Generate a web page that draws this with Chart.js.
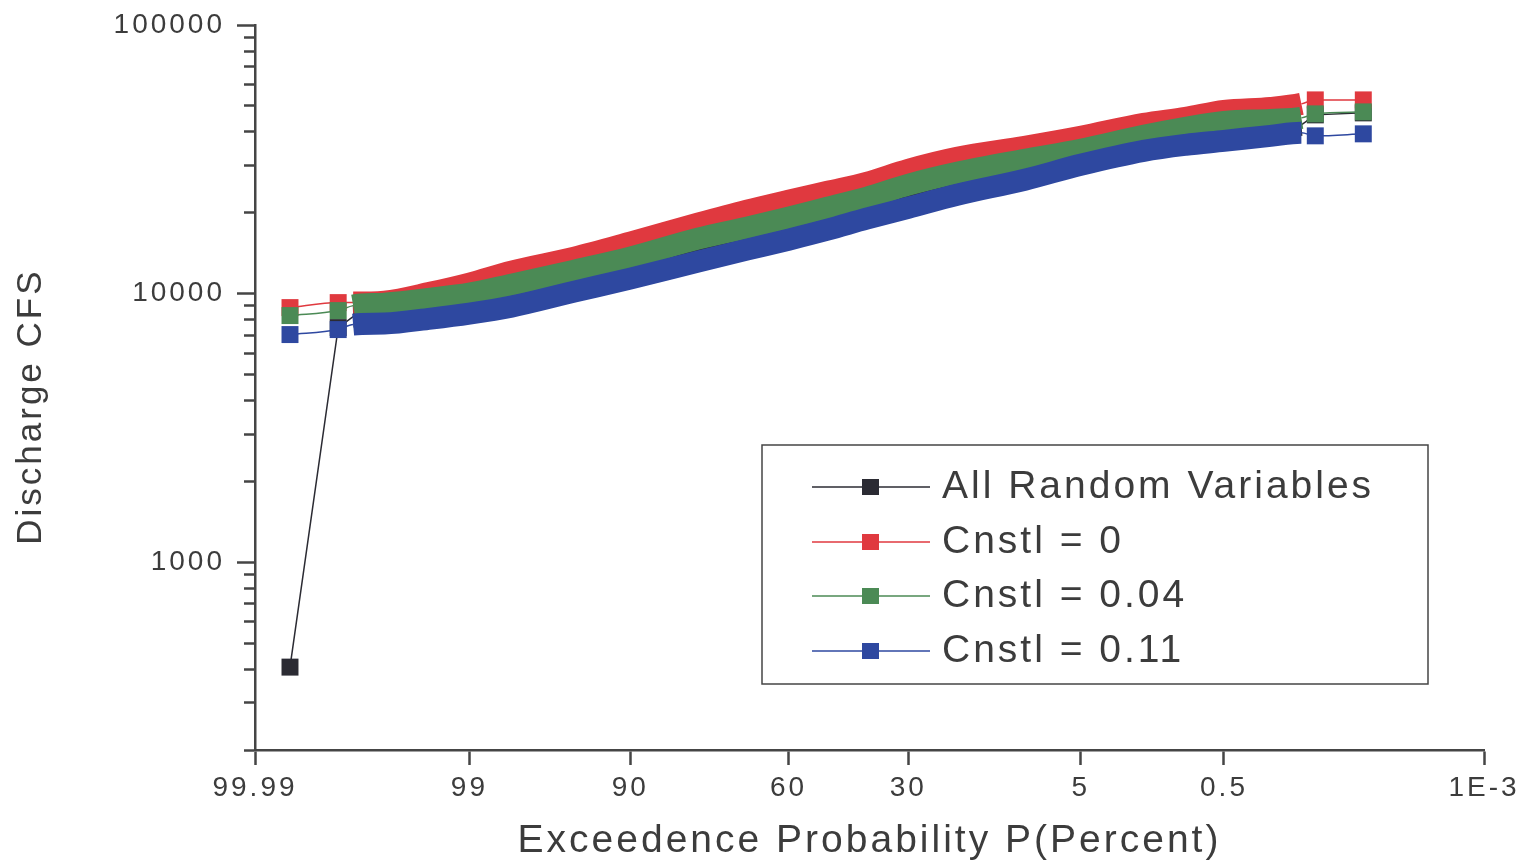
<!DOCTYPE html>
<html>
<head>
<meta charset="utf-8">
<title>Discharge CFS vs Exceedence Probability</title>
<script src="https://cdn.jsdelivr.net/npm/chart.js@4.4.1/dist/chart.umd.min.js"></script>
<style>
  html, body { margin: 0; padding: 0; background: #fff; }
  canvas { display: block; }
</style>
</head>
<body>
<canvas id="chart" width="1526" height="868"></canvas>
<script>
// ── Data ──────────────────────────────────────────────────────────
// exceedence probability (percent) of each plotted point
const exceedProb = [99.976, 99.926, 99.897, 99.8, 99.5, 99, 98, 95, 90, 80, 70, 60, 50,
                    40, 30, 20, 10, 5, 2, 1, 0.5, 0.2, 0.104, 0.0765, 0.025];

// discharge (cfs)
const allRandom = [407, 7475, 8213, 8284, 8646, 9024, 9581, 10894, 12176, 14083, 15607, 17001, 18522,
                   20349, 22360, 24991, 28414, 32306, 36419, 38340, 39675, 41410, 42487, 46285, 47084];
const cnstl0    = [8871, 9259, 9258, 9338, 10086, 10893, 12072, 13609, 15474, 18208, 20350, 22168, 23944,
                   25861, 28905, 32032, 35194, 38340, 42851, 45111, 47897, 49143, 50855, 52626, 52626];
const cnstl004  = [8284, 8646, 9023, 9180, 9581, 10000, 10801, 12176, 13609, 16012, 17594, 19166, 20880,
                   22745, 25422, 28172, 31487, 34302, 38670, 41410, 43592, 44345, 45111, 46683, 47489];
const cnstl011  = [7040, 7348, 7669, 7735, 8074, 8427, 8947, 10173, 11370, 13151, 14573, 15876, 17294,
                   19002, 20879, 23336, 26533, 30168, 34009, 35801, 37049, 38670, 39675, 38669, 39337];

// the dense middle of every series plots as a solid band
const BAND_FIRST = 2;
const BAND_LAST = 22;

const xTickValues = [99.99, 99, 90, 60, 30, 5, 0.5, 0.001];
const xTickLabels = ['99.99', '99', '90', '60', '30', '5', '0.5', '1E-3'];

const yMajorTicks = [1000, 10000, 100000];
const yMinorTicks = [];
for (const decade of [100, 1000, 10000]) {
  for (let m = 2; m <= 9; m++) yMinorTicks.push(m * decade);
}

const FONT = '"Liberation Sans", Arial, Helvetica, sans-serif';
const INK = '#3c3c3c';
const AXIS = '#454545';

// ── Normal probability axis ───────────────────────────────────────
// inverse standard normal CDF (Acklam)
function normInv(p) {
  const a = [-3.969683028665376e+01, 2.209460984245205e+02, -2.759285104469687e+02,
             1.383577518672690e+02, -3.066479806614716e+01, 2.506628277459239e+00];
  const b = [-5.447609879822406e+01, 1.615858368580409e+02, -1.556989798598866e+02,
             6.680131188771972e+01, -1.328068155288572e+01];
  const c = [-7.784894002430293e-03, -3.223964580411365e-01, -2.400758277161838e+00,
             -2.549671348149080e+00, 4.374664141464968e+00, 2.938163982698783e+00];
  const d = [7.784695709041462e-03, 3.224671290700398e-01, 2.445134137142996e+00,
             3.754408661907416e+00];
  const tail = q => (((((c[0] * q + c[1]) * q + c[2]) * q + c[3]) * q + c[4]) * q + c[5]) /
                    ((((d[0] * q + d[1]) * q + d[2]) * q + d[3]) * q + 1);
  if (p < 0.02425) return tail(Math.sqrt(-2 * Math.log(p)));
  if (p > 1 - 0.02425) return -tail(Math.sqrt(-2 * Math.log(1 - p)));
  const q = p - 0.5, r = q * q;
  return (((((a[0] * r + a[1]) * r + a[2]) * r + a[3]) * r + a[4]) * r + a[5]) * q /
         (((((b[0] * r + b[1]) * r + b[2]) * r + b[3]) * r + b[4]) * r + 1);
}

function normCdf(z) {
  // Abramowitz & Stegun 7.1.26
  const t = 1 / (1 + 0.3275911 * Math.abs(z) / Math.SQRT2);
  const y = 1 - (((((1.061405429 * t - 1.453152027) * t) + 1.421413741) * t - 0.284496736) * t + 0.254829592) *
            t * Math.exp(-z * z / 2);
  return z >= 0 ? 0.5 * (1 + y) : 0.5 * (1 - y);
}

// exceedence percent -> standard normal variate
const zOf = pct => normInv(1 - pct / 100);

class ProbabilityScale extends Chart.Scale {
  static id = 'probability';
  static defaults = {};

  determineDataLimits() {
    this.min = this.options.min;
    this.max = this.options.max;
  }
  buildTicks() {
    return xTickValues.map(value => ({ value }));
  }
  getLabelForValue(value) {
    return String(value);
  }
  configure() {
    super.configure();
    // high exceedence on the left, rare events on the right
    this._zLeft = zOf(this.max);
    this._zRight = zOf(this.min);
  }
  getPixelForValue(value) {
    return this.getPixelForDecimal((zOf(value) - this._zLeft) / (this._zRight - this._zLeft));
  }
  getValueForPixel(pixel) {
    const z = this._zLeft + this.getDecimalForPixel(pixel) * (this._zRight - this._zLeft);
    return 100 * (1 - normCdf(z));
  }
}
Chart.register(ProbabilityScale);

// ── Plugins ───────────────────────────────────────────────────────
const spacedText = {
  id: 'spacedText',
  beforeUpdate(chart) { chart.ctx.letterSpacing = '3px'; },
  beforeDraw(chart) { chart.ctx.letterSpacing = '3px'; },
};

// boxed legend: line - square - line, then the label
const boxedLegend = {
  id: 'boxedLegend',
  afterDraw(chart) {
    const { ctx, chartArea: area } = chart;
    const x0 = area.left + 507, y0 = area.top + 420, w = 666, h = 239;
    ctx.save();
    ctx.fillStyle = '#fff';
    ctx.fillRect(x0, y0, w, h);
    ctx.strokeStyle = AXIS;
    ctx.lineWidth = 1.5;
    ctx.strokeRect(x0, y0, w, h);
    ctx.font = `39px ${FONT}`;
    ctx.textAlign = 'left';
    ctx.textBaseline = 'middle';
    chart.data.datasets.forEach((ds, i) => {
      const y = Math.round(y0 + 42 + i * 54.7);
      ctx.strokeStyle = ds.borderColor;
      ctx.lineWidth = 1.5;
      ctx.beginPath();
      ctx.moveTo(x0 + 50, y);
      ctx.lineTo(x0 + 168, y);
      ctx.stroke();
      ctx.fillStyle = ds.borderColor;
      ctx.fillRect(x0 + 100, y - 8, 17, 16);
      ctx.fillStyle = INK;
      ctx.fillText(ds.label, x0 + 180, y);
    });
    ctx.restore();
  }
};

// ── Chart ─────────────────────────────────────────────────────────
const isBand = i => i >= BAND_FIRST && i <= BAND_LAST;
const bandSegment = ctx => isBand(ctx.p0DataIndex) && isBand(ctx.p1DataIndex);

function series(label, values, color, order, smooth = true) {
  return {
    label,
    data: exceedProb.map((p, i) => ({ x: p, y: values[i] })),
    borderColor: color,
    backgroundColor: color,
    borderWidth: 1.5,
    cubicInterpolationMode: smooth ? 'monotone' : 'default',
    tension: 0,
    order,
    pointStyle: 'rect',
    pointRadius: ctx => isBand(ctx.dataIndex) ? 0 : 12,
    pointBorderWidth: 0,
    pointHoverRadius: 0,
    segment: {
      borderWidth: ctx => bandSegment(ctx) ? 22 : 1.5,
    },
  };
}

const majorY = v => yMajorTicks.includes(v);

new Chart(document.getElementById('chart'), {
  type: 'line',
  data: {
    datasets: [
      // later legend entries are drawn on top
      series('All Random Variables', allRandom, '#2b2b33', 4, false),
      series('Cnstl = 0', cnstl0, '#e0393f', 3),
      series('Cnstl = 0.04', cnstl004, '#4b8a55', 2),
      series('Cnstl = 0.11', cnstl011, '#2e48a0', 1),
    ]
  },
  options: {
    responsive: false,
    animation: false,
    events: [],
    layout: { padding: { top: 25, right: 42, bottom: 0, left: 0 } },
    plugins: {
      legend: { display: false },
      tooltip: { enabled: false },
    },
    scales: {
      x: {
        type: 'probability',
        axis: 'x',
        position: 'bottom',
        min: 0.001,
        max: 99.99,
        afterFit: s => { s.height = 118; },
        border: { color: AXIS, width: 2.5 },
        grid: { drawOnChartArea: false, tickLength: 15, tickColor: AXIS, tickWidth: 2.5 },
        ticks: {
          autoSkip: false,
          maxRotation: 0,
          padding: 6,
          color: INK,
          font: { family: FONT, size: 28 },
          callback: v => xTickLabels[xTickValues.indexOf(v)],
        },
        title: {
          display: true,
          text: 'Exceedence Probability P(Percent)',
          color: INK,
          font: { family: FONT, size: 39 },
          padding: { top: 0, bottom: 3 },
        },
      },
      y: {
        type: 'logarithmic',
        position: 'left',
        min: 200,
        max: 100000,
        afterFit: s => { s.width = 255; },
        afterBuildTicks: s => {
          s.ticks = [...yMinorTicks, ...yMajorTicks].sort((a, b) => a - b).map(value => ({ value }));
        },
        border: { color: AXIS, width: 2.5 },
        grid: {
          drawOnChartArea: false,
          tickLength: 18,
          tickColor: AXIS,
          tickWidth: 2.5,
          // minor ticks: skip the outer 7px so they come out shorter
          tickBorderDash: ctx => majorY(ctx.tick.value) ? [] : [0, 7, 11, 100],
        },
        ticks: {
          autoSkip: false,
          padding: 12,
          color: INK,
          font: { family: FONT, size: 28, lineHeight: 0.8 },
          callback: v => majorY(v) ? String(v) : '',
        },
        title: {
          display: true,
          text: 'Discharge CFS   ',
          color: INK,
          font: { family: FONT, size: 35 },
          padding: { top: 10, bottom: 0 },
        },
      },
    },
  },
  plugins: [spacedText, boxedLegend],
});
</script>
</body>
</html>
